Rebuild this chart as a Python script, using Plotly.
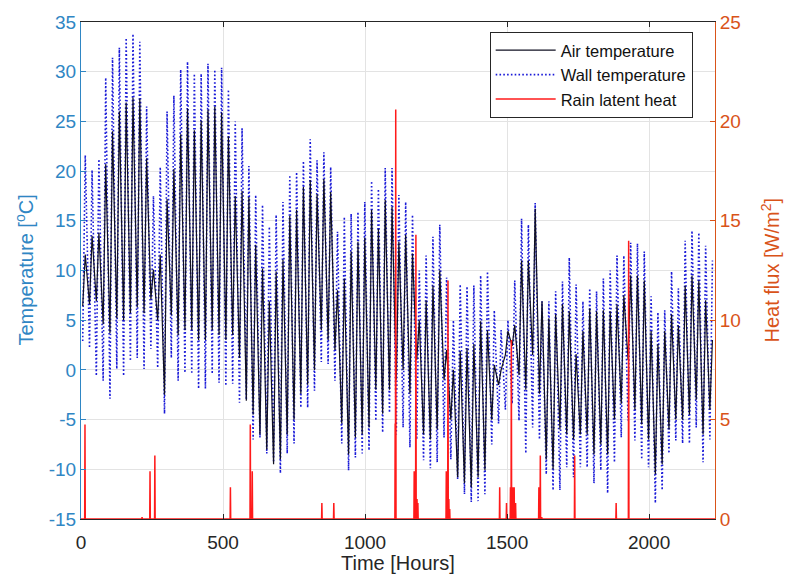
import plotly.graph_objects as go

# ---------------- data ----------------
# daily extremes of the wall surface temperature [°C], days 0..92
wall_max = [21.6, 20.1, 21.2, 29.4, 31.4, 32.4, 33.4, 33.8, 33.0, 26.5,
            17.5, 20.4, 26.0, 27.6, 30.2, 31.0, 29.8, 29.8, 30.8, 30.2,
            30.4, 28.2, 25.0, 24.3, 20.5, 17.6, 16.6, 14.4, 15.6, 16.9,
            19.6, 19.9, 21.0, 23.2, 21.1, 21.9, 20.4, 13.9, 15.4, 15.7,
            15.9, 16.9, 19.0, 18.2, 20.3, 20.3, 17.6, 16.9, 15.6, 10.0,
            11.5, 13.4, 14.6, 9.3, 5.0, 8.6, 8.4, 8.5, 9.5, 9.9,
            6.0, 4.0, 5.0, 9.0, 15.2, 14.6, 16.8, 6.9, 6.9, 7.9,
            8.9, 11.3, 8.6, 6.9, 8.2, 7.9, 9.2, 10.0, 11.5, 11.5,
            12.8, 12.7, 11.9, 7.4, 5.8, 6.0, 9.9, 8.2, 13.0, 14.0,
            13.8, 12.5, 11.0]
wall_min = [2.9, 2.2, -0.6, -1.1, -2.9, 0.1, -0.6, 0.9, 1.2, 0.1,
            2.1, 0.2, -4.4, 1.2, -1.1, -0.3, -0.4, -1.9, -1.9, -0.4,
            -1.3, -1.6, -1.4, -3.3, -3.0, -7.0, -6.8, -8.4, -9.3, -10.4,
            -8.4, -7.4, -3.8, -3.8, -2.1, 0.8, 0.6, -1.1, -7.4, -10.1,
            -8.8, -8.4, -8.1, -5.1, -6.3, -4.3, -6.5, -5.8, -7.8, -7.0,
            -9.1, -9.9, -9.3, -6.8, -9.0, -11.0, -12.5, -13.3, -13.2, -12.5,
            -7.5, -5.4, -4.0, -3.4, -5.1, -8.4, -5.8, -7.0, -10.5, -12.1,
            -12.1, -9.8, -10.8, -9.8, -9.8, -11.4, -10.1, -12.4, -9.3, -6.8,
            -5.1, -7.1, -9.0, -9.8, -13.4, -12.1, -8.4, -7.1, -7.4, -7.4,
            -5.8, -9.3, -7.0]
# daily extremes of the air temperature [°C]
air_max = [11.6, 13.5, 13.8, 20.7, 24.0, 26.0, 26.9, 27.4, 27.3, 21.3,
           10.1, 11.6, 17.2, 20.2, 23.7, 26.3, 24.1, 25.1, 26.2, 26.5,
           25.9, 23.5, 17.5, 18.0, 17.4, 12.6, 10.2, 6.9, 9.9, 11.1,
           15.5, 16.1, 18.4, 19.1, 17.7, 19.2, 17.9, 8.0, 9.2, 11.9,
           12.9, 13.3, 16.1, 14.2, 17.1, 16.4, 12.9, 13.6, 11.7, 5.0,
           7.0, 8.5, 10.0, 2.0, 0.0, 1.9, 2.2, 2.6, 4.9, 4.0,
           0.5, 0.0, 3.9, 4.5, 11.0, 11.0, 16.2, 6.9, 5.2, 5.6,
           6.6, 5.9, 1.6, 3.9, 6.2, 5.9, 6.0, 5.9, 6.6, 7.5,
           9.5, 9.5, 9.0, 3.9, 2.6, 3.9, 5.6, 4.5, 8.5, 9.5,
           9.0, 7.0, 3.0]
air_min = [6.4, 6.6, 6.9, 4.6, 3.7, 5.2, 5.0, 5.7, 6.3, 5.7,
           7.1, 5.0, -2.5, 5.5, 3.5, 4.0, 4.0, 3.0, 3.0, 4.0,
           3.5, 3.0, 3.5, 1.2, -3.1, -4.5, -6.5, -8.0, -9.5, -9.0,
           -6.5, -5.0, -2.4, -1.5, 0.0, 4.0, 3.0, 2.0, -5.4, -8.5,
           -6.8, -6.5, -5.8, -2.0, -4.4, -2.0, -1.0, 0.0, -2.4, 1.0,
           -6.5, -7.0, -6.0, -1.0, -5.0, -10.8, -11.4, -11.8, -10.8, -10.1,
           -5.0, -1.5, 1.5, 2.4, -0.5, -2.0, 1.5, -2.4, -9.0, -10.0,
           -6.0, -6.5, -7.0, -6.5, -6.5, -8.5, -7.5, -8.5, -5.0, -3.4,
           1.0, -4.0, -5.5, -7.0, -10.5, -9.5, -6.0, -5.0, -5.0, -4.5,
           -3.0, -6.5, -4.0]
min_hour = 6    # hour of the day of the daily minimum
max_hour = 15   # hour of the day of the daily maximum

# rain latent heat events: hour and heat flux [W/m2]
rain_hours = [14, 215, 243, 260, 526, 596, 603, 848, 890, 1106, 1108,
              1173, 1179, 1183, 1186, 1286, 1292, 1295, 1298, 1474, 1498,
              1512, 1515, 1520, 1525, 1530, 1612, 1617, 1622, 1738, 1884, 1928]
rain_vals = [4.75, 0.1, 2.4, 3.2, 1.6, 4.75, 2.4, 0.8, 0.8, 4.8, 20.6,
             2.4, 14.3, 1.0, 0.8, 2.4, 12.0, 1.0, 0.5, 1.6, 0.8,
             1.6, 9.0, 1.6, 1.6, 0.8, 1.6, 3.2, 0.1, 3.2, 0.8, 14.0]
total_hours = 2232

x_ticks = [0, 500, 1000, 1500, 2000]
y_ticks = [-15, -10, -5, 0, 5, 10, 15, 20, 25, 30, 35]
y_ticktext = ["-15", "-10", "-5", "0", "5", "10", "15", "20", "25", "30", "35"]
y2_ticks = [0, 5, 10, 15, 20, 25]

# ---------------- series construction ----------------
t, wall, air = [], [], []
for d in range(len(wall_max)):
    t += [24 * d + min_hour, 24 * d + max_hour]
    wall += [wall_min[d], wall_max[d]]
    air += [air_min[d], air_max[d]]

rx, ry = [0], [0]
for h, v in zip(rain_hours, rain_vals):
    rx += [h - 1, h, h + 1]
    ry += [0, v, 0]
rx.append(total_hours)
ry.append(0)

BLUE = "#2f86c4"
ORANGE = "#D95319"
DARK = "#262626"
FONT = "Liberation Sans, Arial, sans-serif"

fig = go.Figure()
fig.add_trace(go.Scatter(x=t, y=wall, mode="lines", name="Wall temperature",
                         line=dict(color="#1a1ad8", width=1.6, dash="1.6px,2.2px"),
                         legendrank=2))
fig.add_trace(go.Scatter(x=t, y=air, mode="lines", name="Air temperature",
                         line=dict(color="#111122", width=1.2),
                         legendrank=1))
fig.add_trace(go.Scatter(x=rx, y=ry, mode="lines", name="Rain latent heat",
                         line=dict(color="#ff1a1a", width=1.5),
                         yaxis="y2", legendrank=3))

fig.update_layout(
    width=785, height=581, autosize=False,
    margin=dict(l=81, r=70, t=19, b=62),
    paper_bgcolor="white", plot_bgcolor="white",
    font=dict(family=FONT, color=DARK),
    showlegend=True,
    legend=dict(x=0.6446, y=0.98, xanchor="left", yanchor="top",
                bgcolor="white", bordercolor=DARK, borderwidth=1,
                font=dict(size=16.5, color="#111111"), itemwidth=60,
                tracegroupgap=0),
    xaxis=dict(range=[0, total_hours], tickvals=x_ticks,
               ticks="inside", ticklen=5, tickcolor=DARK,
               showline=True, linecolor=DARK, linewidth=1, mirror="ticks",
               showgrid=True, gridcolor="#e3e3e3", zeroline=False,
               ticklabelstandoff=6,
               tickfont=dict(size=19, color=DARK)),
    yaxis=dict(range=[-15, 35], tickvals=y_ticks, ticktext=y_ticktext,
               ticks="inside", ticklen=5, tickcolor=BLUE,
               showline=True, linecolor=BLUE, linewidth=1,
               showgrid=True, gridcolor="#e3e3e3", zeroline=False,
               tickfont=dict(size=19, color=BLUE)),
    yaxis2=dict(range=[0, 25], tickvals=y2_ticks, overlaying="y", side="right",
                ticks="inside", ticklen=5, tickcolor=ORANGE,
                showline=True, linecolor=ORANGE, linewidth=1,
                showgrid=False, zeroline=False,
                tickfont=dict(size=19, color=ORANGE)),
    annotations=[
        dict(text="Time [Hours]", xref="paper", yref="paper", x=0.5, y=0,
             yshift=-44, xanchor="center", yanchor="middle", showarrow=False,
             font=dict(size=20, color=DARK)),
        dict(text="Temperature [<sup>o</sup>C]", xref="paper", yref="paper",
             x=0, y=0.5, xshift=-57, xanchor="center", yanchor="middle",
             textangle=-90, showarrow=False, font=dict(size=20, color=BLUE)),
        dict(text="Heat flux [W/m<sup>2</sup>]", xref="paper", yref="paper",
             x=1, y=0.5, xshift=55, xanchor="center", yanchor="middle",
             textangle=-90, showarrow=False, font=dict(size=20, color=ORANGE)),
    ],
)

fig.write_html("out.html")
